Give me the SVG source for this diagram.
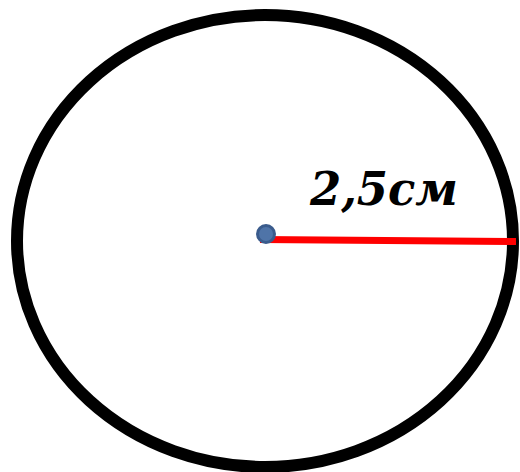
<svg xmlns="http://www.w3.org/2000/svg" width="520" height="472" viewBox="0 0 520 472">
<style>
.label{font-family:"DejaVu Serif","Liberation Serif",serif;font-weight:bold;font-style:italic;font-size:47px;fill:#000}
</style>
<rect width="520" height="472" fill="#fff"/>
<g id="circle">
<ellipse cx="265" cy="241" rx="248" ry="226" fill="none" stroke="#000" stroke-width="12"/>
</g>
<g id="connectors">
<line x1="260" y1="239.5" x2="516" y2="241.5" stroke="#ff0000" stroke-width="7"/>
</g>
<g id="center">
<circle cx="266" cy="234" r="8.5" fill="#4f74a8" stroke="#3a5b8c" stroke-width="3"/>
</g>
<g id="radius-label">
<text class="label" x="310" y="205" textLength="148" lengthAdjust="spacingAndGlyphs">2,5см</text>
</g>
</svg>
